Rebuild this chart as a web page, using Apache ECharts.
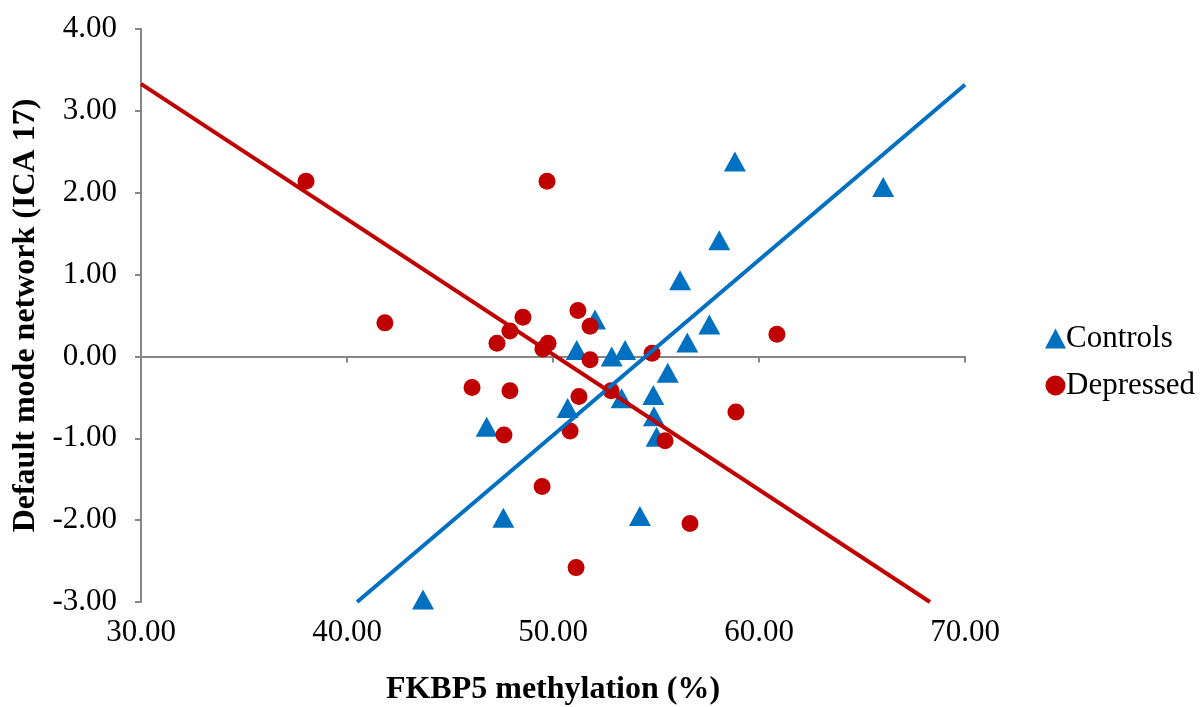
<!DOCTYPE html>
<html>
<head>
<meta charset="utf-8">
<script src="https://cdn.jsdelivr.net/npm/echarts@6/dist/echarts.min.js"></script>
<style>
  html, body { margin: 0; padding: 0; background: #fff; }
  #chart { width: 1200px; height: 707px; }
</style>
</head>
<body>
<div id="chart"></div>
<script>
// values: [methylation %, ICA 17]
const controls = [
  [43.69, -2.97], [46.78, -0.86], [47.59, -1.97], [50.71, -0.63], [51.15, 0.08],
  [52.04, 0.45], [52.85, 0.0], [53.5, 0.08], [53.33, -0.51], [54.87, -0.47],
  [54.9, -0.73], [55.03, -0.98], [55.57, -0.2], [56.52, 0.17], [56.17, 0.93],
  [57.59, 0.39], [58.07, 1.42], [58.83, 2.38], [66.03, 2.07], [54.22, -1.95]
]
const depressed = [
  [38.01, 2.14], [41.84, 0.41], [49.71, 2.14], [46.07, -0.38], [47.28, 0.16],
  [47.91, 0.31], [48.54, 0.48], [49.51, 0.09], [49.76, 0.16], [47.91, -0.42],
  [47.62, -0.96], [49.47, -1.59], [50.83, -0.91], [51.21, 0.56], [51.8, 0.37],
  [51.8, -0.04], [51.26, -0.49], [52.82, -0.42], [54.81, 0.04], [55.44, -1.03],
  [51.12, -2.58], [56.65, -2.04], [58.88, -0.68], [60.87, 0.27]
]
// trend line end points as drawn
const controlsTrend = [[40.49, -3], [70, 3.32]]
const depressedTrend = [[30, 3.33], [68.3, -3]]

const seriesNames = ['Controls', 'Depressed']
const xTitle = 'FKBP5 methylation (%)'
const yTitle = 'Default mode network (ICA 17)'

const font = 'Liberation Serif'
const axisGray = '#868686'
const blue = '#0070C0'
const red = '#C00000'

const chart = echarts.init(document.getElementById('chart'))

const option = {
  animation: false,
  textStyle: { fontFamily: font },
  grid: { left: 141, right: 235, top: 29, bottom: 105, outerBoundsMode: 'none', containLabel: false },
  legend: {
    data: seriesNames,
    orient: 'vertical',
    left: 1040,
    top: 318,
    itemGap: 16,
    itemWidth: 21,
    itemHeight: 20,
    textStyle: { fontFamily: font, fontSize: 31, color: '#000', padding: [0, 0, 0, -5] }
  },
  xAxis: [
    {
      type: 'value',
      min: 30,
      max: 70,
      interval: 10,
      name: xTitle,
      nameLocation: 'middle',
      nameGap: 72,
      nameTextStyle: { fontFamily: font, fontSize: 32, fontWeight: 'bold', color: '#000' },
      axisLine: { show: false, onZero: false },
      axisTick: { show: false },
      splitLine: { show: false },
      axisLabel: {
        fontFamily: font,
        fontSize: 31,
        color: '#000',
        margin: 15,
        formatter: v => v.toFixed(2)
      }
    },
    {
      // the line that crosses at y = 0
      type: 'value',
      min: 30,
      max: 70,
      interval: 10,
      position: 'top',
      axisLine: { show: true, onZero: true, lineStyle: { color: axisGray, width: 2 } },
      axisTick: { show: true, inside: true, length: 6, lineStyle: { color: axisGray, width: 2 } },
      axisLabel: { show: false },
      splitLine: { show: false }
    }
  ],
  yAxis: {
    type: 'value',
    min: -3,
    max: 4,
    interval: 1,
    name: yTitle,
    nameLocation: 'middle',
    nameGap: 96,
    nameTextStyle: { fontFamily: font, fontSize: 32, fontWeight: 'bold', color: '#000' },
    axisLine: { show: true, onZero: false, lineStyle: { color: axisGray, width: 2 } },
    axisTick: { show: true, length: 6, lineStyle: { color: axisGray, width: 2 } },
    splitLine: { show: false },
    axisLabel: {
      fontFamily: font,
      fontSize: 31,
      color: '#000',
      margin: 24,
      formatter: v => v.toFixed(2)
    }
  },
  series: [
    {
      name: 'Controls',
      type: 'scatter',
      symbol: 'triangle',
      symbolSize: [22, 20],
      itemStyle: { color: blue, opacity: 1 },
      data: controls,
      z: 2
    },
    {
      name: 'Depressed',
      type: 'scatter',
      symbol: 'circle',
      symbolSize: 17,
      itemStyle: { color: red, opacity: 1 },
      data: depressed,
      z: 2
    },
    {
      name: 'Controls trend',
      type: 'line',
      showSymbol: false,
      silent: true,
      lineStyle: { color: blue, width: 4 },
      data: controlsTrend,
      z: 3
    },
    {
      name: 'Depressed trend',
      type: 'line',
      showSymbol: false,
      silent: true,
      lineStyle: { color: red, width: 4 },
      data: depressedTrend,
      z: 3
    }
  ]
}

chart.setOption(option)
</script>
</body>
</html>
